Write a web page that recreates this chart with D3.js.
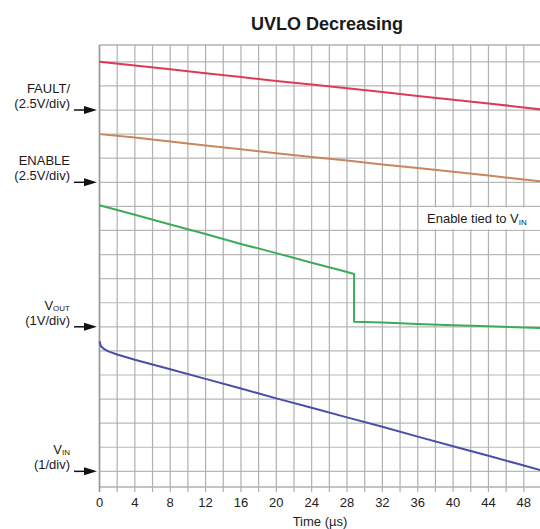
<!DOCTYPE html>
<html>
<head>
<meta charset="utf-8">
<script src="https://cdn.jsdelivr.net/npm/d3@7"></script>
<style>
  body { margin: 0; background: #fff; }
  svg { display: block; font-family: "Liberation Sans", Arial, sans-serif; }
</style>
</head>
<body>
<svg id="chart" width="540" height="529"></svg>
<script>
// time axis (us)
var timeTicks = [0, 4, 8, 12, 16, 20, 24, 28, 32, 36, 40, 44, 48];
var gridTimes = d3.range(0, 51, 2);
var gridDivs = d3.range(0, 18, 1);

// traces: [time us, screen divisions]
var faultTrace = [[0, 17.0], [4, 16.85], [8, 16.69], [12, 16.53], [16, 16.37], [20, 16.21], [24, 16.06],
  [28, 15.9], [32, 15.75], [36, 15.58], [40, 15.43], [44, 15.27], [48, 15.11], [50, 15.02]];
var enableTrace = [[0, 14.0], [4, 13.86], [8, 13.69], [12, 13.53], [16, 13.37], [20, 13.21], [24, 13.05],
  [28, 12.9], [32, 12.74], [36, 12.59], [40, 12.44], [44, 12.28], [48, 12.12], [50, 12.04]];
var voutTrace = [[0, 11.05], [4, 10.65], [8, 10.25], [12, 9.85], [16, 9.44], [20, 9.06], [24, 8.66],
  [27.6, 8.32], [28.8, 8.19], [28.8, 6.21], [32, 6.18], [36, 6.12], [40, 6.07], [44, 6.02], [50, 5.95]];
var vinTrace = [[0, 5.40], [0.15, 5.2], [0.5, 5.08], [1, 4.98], [2, 4.85], [4, 4.63], [8, 4.24], [12, 3.84],
  [16, 3.44], [20, 3.03], [24, 2.64], [28, 2.24], [32, 1.85], [36, 1.44], [40, 1.04], [44, 0.65], [48, 0.24], [50, 0.04]];

// channel reference levels (divisions) and labels
var channels = [
  {main: "FAULT/", sub: "", scale: "(2.5V/div)", ref: 15},
  {main: "ENABLE", sub: "", scale: "(2.5V/div)", ref: 12},
  {main: "V", sub: "OUT", scale: "(1V/div)", ref: 6},
  {main: "V", sub: "IN", scale: "(1/div)", ref: 0}
];

var svg = d3.select("#chart");
var plotLeft = 99.5, plotRight = 541.5, plotTop = 45, plotBottom = 487;

var x = d3.scaleLinear().domain([0, 50]).range([plotLeft, plotRight]);
var y = d3.scaleLinear().domain([-0.65, 17.7]).range([plotBottom, plotTop]);

svg.append("text")
    .attr("x", 327)
    .attr("y", 30)
    .attr("text-anchor", "middle")
    .attr("font-size", "18px")
    .attr("font-weight", "bold")
    .attr("fill", "#1a1a1a")
    .text("UVLO Decreasing");

// grid
var grid = svg.append("g");
grid.selectAll(".hline")
    .data(gridDivs)
    .enter()
    .append("line")
    .attr("x1", plotLeft).attr("x2", 540)
    .attr("y1", function(d){ return y(d); })
    .attr("y2", function(d){ return y(d); })
    .attr("stroke", "#b8b8b8")
    .attr("stroke-width", 1.2);
grid.selectAll(".vline")
    .data(gridTimes)
    .enter()
    .append("line")
    .attr("x1", function(d){ return x(d); })
    .attr("x2", function(d){ return x(d); })
    .attr("y1", plotTop).attr("y2", plotBottom + 5)
    .attr("stroke", "#b0b0b0")
    .attr("stroke-width", 1.2);
grid.append("line")
    .attr("x1", plotLeft).attr("x2", 540)
    .attr("y1", plotTop).attr("y2", plotTop)
    .attr("stroke", "#b0b0b0").attr("stroke-width", 1.4);
grid.append("line")
    .attr("x1", plotLeft).attr("x2", 540)
    .attr("y1", plotBottom).attr("y2", plotBottom)
    .attr("stroke", "#b0b0b0").attr("stroke-width", 1.4);
grid.append("line")
    .attr("x1", plotLeft).attr("x2", plotLeft)
    .attr("y1", plotTop).attr("y2", plotBottom + 5)
    .attr("stroke", "#999").attr("stroke-width", 1.6);

// white box behind the note
svg.append("rect")
    .attr("x", 421)
    .attr("y", y(11) + 1)
    .attr("width", 120)
    .attr("height", y(10) - y(11) - 2)
    .attr("fill", "#fff");
var note = svg.append("text")
    .attr("x", 427)
    .attr("y", 223)
    .attr("font-size", "13px")
    .attr("fill", "#1a1a1a");
note.append("tspan").text("Enable tied to V");
note.append("tspan")
    .attr("font-size", "8px")
    .attr("dy", 2)
    .text("IN");

// traces
var line = d3.line()
    .x(function(d){ return x(d[0]); })
    .y(function(d){ return y(d[1]); });

var traces = [
  {data: faultTrace, color: "#de3a55"},
  {data: enableTrace, color: "#c8865c"},
  {data: voutTrace, color: "#3dab5c"},
  {data: vinTrace, color: "#4a4ea6"}
];
svg.append("g")
    .selectAll("path")
    .data(traces)
    .enter()
    .append("path")
    .attr("d", function(d){ return line(d.data); })
    .attr("fill", "none")
    .attr("stroke", function(d){ return d.color; })
    .attr("stroke-width", 2)
    .attr("stroke-linejoin", "round");

// x tick labels
svg.append("g")
    .selectAll("text")
    .data(timeTicks)
    .enter()
    .append("text")
    .attr("x", function(d){ return x(d); })
    .attr("y", 507)
    .attr("text-anchor", "middle")
    .attr("font-size", "13px")
    .attr("fill", "#222")
    .text(function(d){ return d; });

svg.append("text")
    .attr("x", 320)
    .attr("y", 526)
    .attr("text-anchor", "middle")
    .attr("font-size", "13px")
    .attr("fill", "#222")
    .text("Time (\u00b5s)");

// channel labels + arrows
var ch = svg.append("g")
    .selectAll("g")
    .data(channels)
    .enter()
    .append("g");

var t1 = ch.append("text")
    .attr("x", 70)
    .attr("y", function(d){ return y(d.ref) - 17; })
    .attr("text-anchor", "end")
    .attr("font-size", "13px")
    .attr("fill", "#1a1a1a");
t1.append("tspan").text(function(d){ return d.main; });
t1.append("tspan")
    .attr("font-size", "8px")
    .attr("dy", 1)
    .text(function(d){ return d.sub; });

ch.append("text")
    .attr("x", 70)
    .attr("y", function(d){ return y(d.ref) - 2; })
    .attr("text-anchor", "end")
    .attr("font-size", "13px")
    .attr("fill", "#1a1a1a")
    .text(function(d){ return d.scale; });

ch.append("line")
    .attr("x1", 74).attr("x2", 86)
    .attr("y1", function(d){ return y(d.ref); })
    .attr("y2", function(d){ return y(d.ref); })
    .attr("stroke", "#111")
    .attr("stroke-width", 1.5);
ch.append("path")
    .attr("d", function(d){
        var yy = y(d.ref);
        return "M84," + (yy - 4) + "L97," + yy + "L84," + (yy + 4) + "Z";
    })
    .attr("fill", "#111");
</script>
</body>
</html>
